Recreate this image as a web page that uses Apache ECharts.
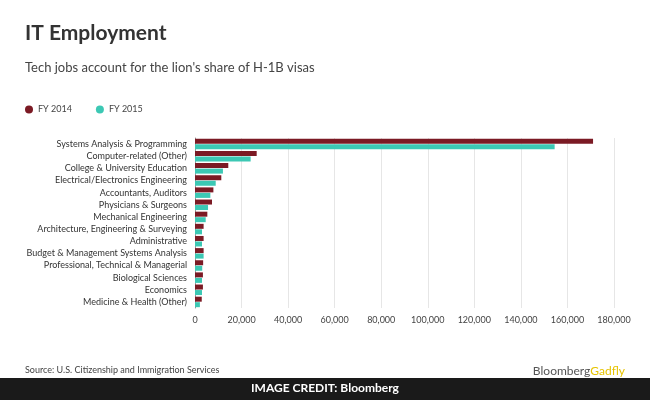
<!DOCTYPE html>
<html>
<head>
<meta charset="utf-8">
<script src="https://cdn.jsdelivr.net/npm/echarts@6/dist/echarts.min.js"></script>
<style>html,body{margin:0;padding:0;background:#fff}#chart{width:650px;height:400px}</style>
</head>
<body>
<div id="chart"></div>
<script>
var categories = ["Systems Analysis & Programming", "Computer-related (Other)", "College & University Education",
  "Electrical/Electronics Engineering", "Accountants, Auditors", "Physicians & Surgeons", "Mechanical Engineering",
  "Architecture, Engineering & Surveying", "Administrative", "Budget & Management Systems Analysis",
  "Professional, Technical & Managerial", "Biological Sciences", "Economics", "Medicine & Health (Other)"];
var fy2014 = [171000, 26500, 14300, 11300, 7900, 7300, 5300, 3700, 3700, 3700, 3500, 3400, 3400, 2900];
var fy2015 = [154500, 23900, 12000, 8900, 6600, 5600, 4600, 3000, 3000, 3700, 3100, 3000, 3000, 2100];
var font = "Lato, 'Open Sans', sans-serif";

var myChart = echarts.init(document.getElementById('chart'));
myChart.setOption({
  animation: false,
  textStyle: {fontFamily: font},
  title: [
    {text: "IT Employment", left: 20, top: 18, textStyle: {fontSize: 21, fontWeight: 'bold', color: '#333', fontFamily: font}},
    {text: "Tech jobs account for the lion's share of H-1B visas", left: 20, top: 56, textStyle: {fontSize: 13, fontWeight: 'normal', color: '#444', fontFamily: font}},
    {text: "Source: U.S. Citizenship and Immigration Services", left: 20, top: 361, textStyle: {fontSize: 9, fontWeight: 'normal', color: '#444', fontFamily: font}},
    {text: "Bloomberg{g|Gadfly}", right: 20, top: 360, textStyle: {fontSize: 12, fontWeight: 'normal', color: '#555', fontFamily: font, rich: {g: {fontSize: 12, color: '#e6c300', fontFamily: font}}}}
  ],
  graphic: [
    {type: 'rect', left: 0, top: 378, shape: {width: 650, height: 22}, style: {fill: '#1a1a1a'}},
    {type: 'text', left: 'center', top: 382, style: {text: "IMAGE CREDIT: Bloomberg", fill: '#fff', font: "bold 12px " + font}}
  ],
  legend: {
    left: 20, top: 100, icon: 'circle', itemWidth: 8, itemHeight: 8, itemGap: 24,
    textStyle: {fontSize: 9, color: '#444'},
    data: ["FY 2014", "FY 2015"]
  },
  grid: {left: 195, right: 36, top: 138, bottom: 92},
  xAxis: {
    type: 'value', min: 0, max: 180000, interval: 20000,
    axisLabel: {fontSize: 9, color: '#444', formatter: function (v) { return v.toLocaleString('en-US'); }},
    splitLine: {lineStyle: {color: '#e6e6e6'}},
    axisLine: {show: false}, axisTick: {show: false}
  },
  yAxis: {
    type: 'category', inverse: true, data: categories,
    axisLabel: {fontSize: 9, color: '#333', margin: 8},
    axisLine: {lineStyle: {color: '#999'}}, axisTick: {show: false}
  },
  series: [
    {name: "FY 2014", type: 'bar', data: fy2014, barWidth: 5, barGap: '10%', itemStyle: {color: '#7b1a24'}},
    {name: "FY 2015", type: 'bar', data: fy2015, barWidth: 5, itemStyle: {color: '#3cc8b4'}}
  ]
});
</script>
</body>
</html>
